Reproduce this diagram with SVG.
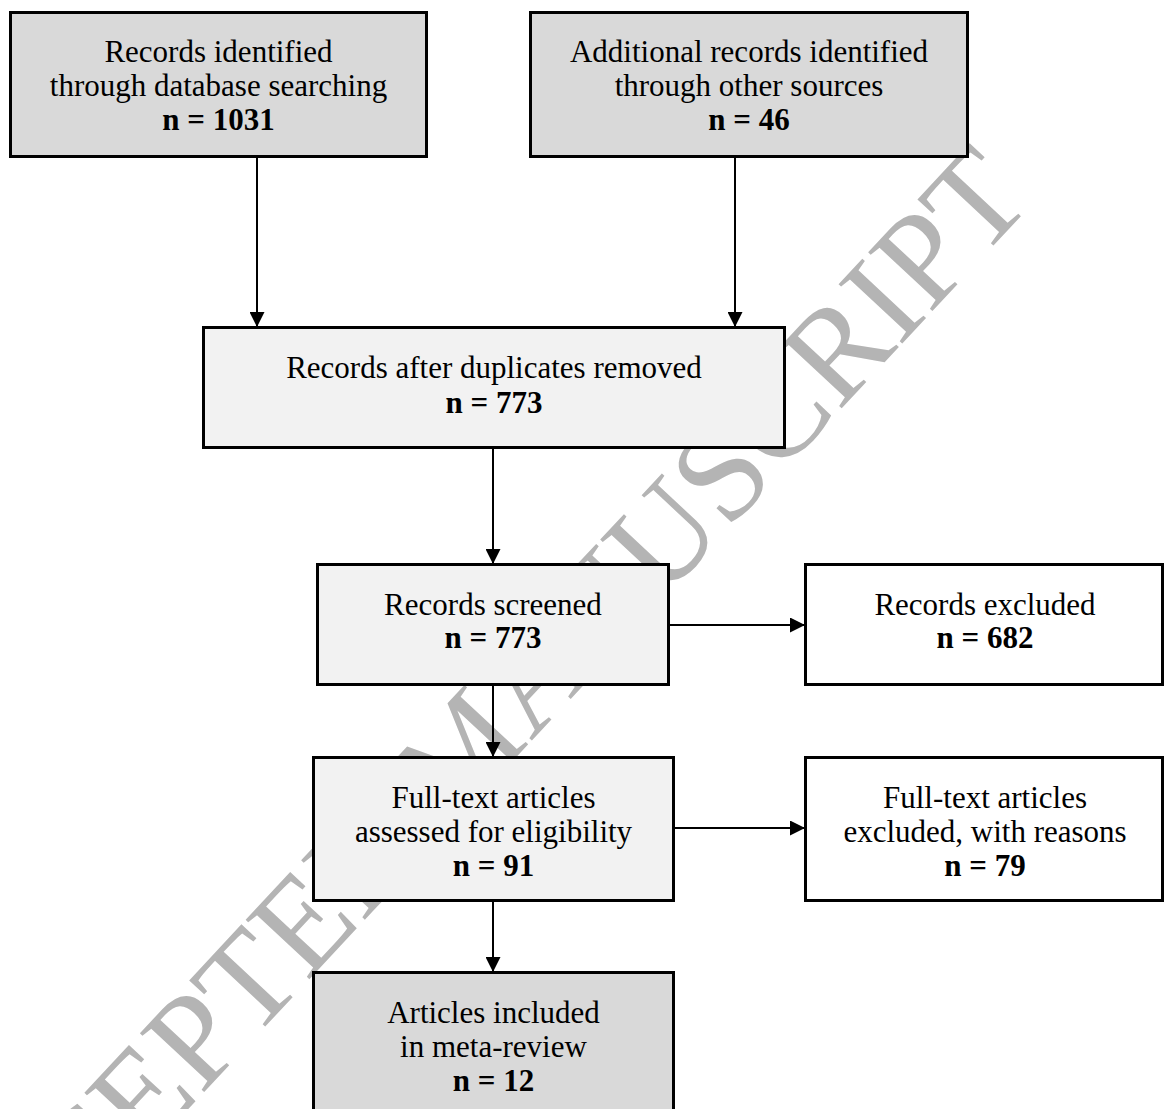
<svg xmlns="http://www.w3.org/2000/svg" width="1165" height="1109" viewBox="0 0 1165 1109">
<defs>
<style>
.box{stroke:#000;stroke-width:3}
.dark{fill:#d9d9d9}
.light{fill:#f2f2f2}
.white{fill:#fff}
.t{font-family:"Liberation Serif","Times New Roman",serif;font-size:31px;fill:#000;text-anchor:middle}
.b{font-weight:bold}
.wm{font-family:"Liberation Serif","Times New Roman",serif;font-size:133px;fill:#b4b4b4}
.c{stroke:#000;stroke-width:2;fill:none;marker-end:url(#ah)}
</style>
<marker id="ah" markerUnits="userSpaceOnUse" markerWidth="15" markerHeight="15" refX="15" refY="7.5" orient="auto">
<path d="M0,0 L15,7.5 L0,15 z" fill="#000"/>
</marker>
</defs>
<rect width="1165" height="1109" fill="#fff"/>
<text class="wm" text-anchor="end" transform="translate(1035,201) rotate(-47)">ACCEPTED MANUSCRIPT</text>
<g id="connectors">
<line class="c" x1="257" y1="157" x2="257" y2="327"/>
<line class="c" x1="735" y1="157" x2="735" y2="327"/>
<line class="c" x1="493" y1="448" x2="493" y2="564"/>
<line class="c" x1="669" y1="625" x2="805" y2="625"/>
<line class="c" x1="493" y1="685" x2="493" y2="757"/>
<line class="c" x1="674" y1="828" x2="805" y2="828"/>
<line class="c" x1="493" y1="901" x2="493" y2="972"/>
</g>
<g id="n1">
<rect class="box dark" x="10.5" y="12.5" width="416" height="144"/>
<text class="t" x="218.5" y="62">Records identified</text>
<text class="t" x="218.5" y="96">through database searching</text>
<text class="t b" x="218.5" y="130">n = 1031</text>
</g>
<g id="n2">
<rect class="box dark" x="530.5" y="12.5" width="437" height="144"/>
<text class="t" x="749" y="62">Additional records identified</text>
<text class="t" x="749" y="96">through other sources</text>
<text class="t b" x="749" y="130">n = 46</text>
</g>
<g id="n3">
<rect class="box light" x="203.5" y="327.5" width="581" height="120"/>
<text class="t" x="494" y="378">Records after duplicates removed</text>
<text class="t b" x="494" y="413">n = 773</text>
</g>
<g id="n4">
<rect class="box light" x="317.5" y="564.5" width="351" height="120"/>
<text class="t" x="493" y="615">Records screened</text>
<text class="t b" x="493" y="648">n = 773</text>
</g>
<g id="n5">
<rect class="box white" x="805.5" y="564.5" width="357" height="120"/>
<text class="t" x="985" y="615">Records excluded</text>
<text class="t b" x="985" y="648">n = 682</text>
</g>
<g id="n6">
<rect class="box light" x="313.5" y="757.5" width="360" height="143"/>
<text class="t" x="493.5" y="808">Full-text articles</text>
<text class="t" x="493.5" y="842">assessed for eligibility</text>
<text class="t b" x="493.5" y="876">n = 91</text>
</g>
<g id="n7">
<rect class="box white" x="805.5" y="757.5" width="357" height="143"/>
<text class="t" x="985" y="808">Full-text articles</text>
<text class="t" x="985" y="842">excluded, with reasons</text>
<text class="t b" x="985" y="876">n = 79</text>
</g>
<g id="n8">
<rect class="box dark" x="313.5" y="972.5" width="360" height="146"/>
<text class="t" x="493.5" y="1023">Articles included</text>
<text class="t" x="493.5" y="1057">in meta-review</text>
<text class="t b" x="493.5" y="1091">n = 12</text>
</g>
</svg>
